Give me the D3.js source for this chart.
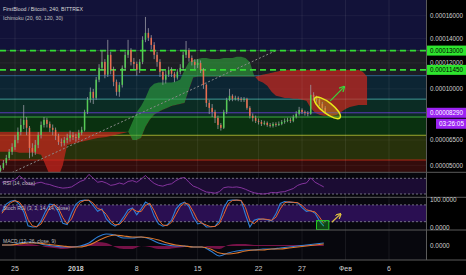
<!DOCTYPE html>
<html>
<head>
<meta charset="utf-8">
<script src="https://cdn.jsdelivr.net/npm/d3@7"></script>
<style>
  html, body { margin: 0; padding: 0; background: #000; }
  svg { display: block; font-family: "Liberation Sans", Arial, sans-serif; }
</style>
</head>
<body>
<svg id="chart" width="466" height="275"></svg>
<script>
// ---- data (prices in satoshi, 1e-8 BTC) ----
var candleStart = new Date(2017, 11, 23, 8); // 8h candles
var firstOpen = 4700;
var closes = [4850,5130,5420,5780,6070,6500,7010,7470,7810,7280,
  6010,5780,6200,6820,7470,7810,7540,7280,7150,6760,
  6380,6320,6500,6630,6820,6690,6630,6950,7150,8350,
  9200,9780,9340,10690,11610,12080,11080,12650,11450,10530,
  9780,10300,11610,12650,13050,12080,11920,11450,12080,13900,
  14490,14070,13470,12650,12080,11300,10690,11080,11450,11150,
  10850,11300,11610,12650,13050,12400,12080,11840,12000,11450,
  10300,8980,8630,8350,7940,7470,7280,8350,9200,9490,
  9270,9340,9270,9200,9270,8630,8080,7940,7740,7670,
  7540,7610,7470,7410,7540,7470,7540,7670,7740,7810,
  7740,8010,8220,8490,8350,8280,8220,9560,9410,9200,
  8910,8630,8290];
var highs = [5000,5300,5600,5950,6300,6800,7300,7900,8830,8000,
  7400,6300,6500,7000,7700,8000,7950,7700,7500,7300,
  6900,6600,6700,6900,7100,7000,6900,7150,7350,8500,
  9400,10100,10000,10900,11900,13000,12300,13900,12900,11700,
  10700,10500,11800,12900,13900,13200,12400,12100,12300,14200,
  15890,14900,14300,13700,12900,12300,11500,11400,11700,11650,
  11300,11500,11900,12900,13800,13200,12600,12300,12300,12200,
  11600,10400,9200,8900,8500,8100,7600,8500,9350,10000,
  9600,9500,9450,9400,9400,9350,8750,8250,8100,7900,
  7800,7750,7700,7600,7650,7650,7700,7800,7900,7950,
  7950,8150,8400,8700,8600,8450,8400,10300,9750,9500,
  9300,9050,8750];
var lows = [4600,4750,5000,5300,5600,5900,6300,6800,7200,6800,
  5400,5500,5600,6000,6600,7300,7300,7000,6800,6500,
  6200,6100,6150,6300,6400,6500,6400,6500,6800,7050,
  8200,9000,8900,9200,10500,11400,10800,10900,11100,10200,
  9500,9420,10100,11400,12400,11800,11500,11000,11200,11900,
  13700,13800,13100,12300,11700,10900,10300,10400,10900,10900,
  10500,10700,11100,11400,12400,12100,11800,11500,11600,11200,
  10000,8700,8200,8000,7600,7200,7100,7200,8200,9100,
  9100,9150,9100,9050,9050,8500,7900,7700,7600,7500,
  7400,7450,7350,7300,7300,7350,7400,7450,7550,7650,
  7600,7650,7900,8100,8200,8100,8050,8150,9150,9000,
  8750,8500,8200];

// Ichimoku cloud, 12h steps (already shifted forward)
var cloudStart = new Date(2017, 11, 23, 0);
var spanA = [5790,5790,5790,5790,5790,5730,5730,5730,5730,5670,
  5610,5020,4450,4270,4380,5020,6190,6260,6320,6380,
  6440,6500,6560,6630,6660,6690,6760,6820,6880,6950,
  7010,7670,8350,8760,9330,10080,10390,10470,10470,10470,
  10470,10550,10700,11450,12080,12240,12320,12400,12400,12320,
  12320,12320,12400,12400,12400,12490,12490,12400,12080,11000,
  10610,10470,10230,9780,9490,9420,9340,9340,9270,9270,
  9200,9130,8630,8290,8150,8080,8080,8080,8150,8350,
  8560,8700,8760,8830,8830,8830];
var spanB = [7030,7030,7030,7030,7030,7030,7030,7030,7030,7030,
  7030,7030,7030,7030,7030,7030,7030,7030,7030,7030,
  7030,7030,7030,7030,7030,7030,7030,7030,7030,7030,
  7030,6500,6500,6630,7340,7810,8150,8350,8500,8630,
  8760,8830,8900,8980,9930,10850,10920,10920,10920,10920,
  10920,10920,10920,10920,10920,10920,10920,10920,10920,10920,
  11000,11080,11150,11230,11300,11380,11450,11450,11450,11450,
  11450,11450,11450,11450,11450,11450,11450,11450,11450,11450,
  11450,11450,11450,11450,11300,10920];

// indicators, 12h steps
var indStart = new Date(2017, 11, 23, 12);
var rsi = [60,61,62,66,76,68,55,53,58,60,
  56,54,50,47,45,46,48,55,62,66,
  80,70,60,62,58,52,54,58,55,62,
  64,60,68,77,66,57,52,50,54,56,
  64,70,72,60,50,46,40,35,34,32,
  36,46,48,47,48,46,42,37,33,31,
  30,31,34,33,35,36,40,44,52,56,
  58,71,60,54,48];
var stochK = [56,83,93,96,82,55,5,1,2,23,
  56,83,80,55,14,10,51,82,95,97,
  96,77,57,65,30,13,4,15,37,62,
  69,45,66,90,81,40,12,4,9,26,
  65,83,90,74,37,12,16,1,2,4,
  22,70,96,97,97,95,45,1,25,30,
  29,27,23,48,85,92,89,89,87,70,
  57,60,50,23,4];
var stochD = [50,72,88,95,90,70,28,5,2,12,
  40,70,82,68,35,12,30,66,89,96,
  97,86,67,62,46,22,9,10,26,50,
  66,57,56,78,86,60,26,8,6,18,
  46,74,87,82,56,25,14,8,2,3,
  13,46,83,96,97,96,70,23,13,28,
  30,28,25,36,66,88,91,89,88,78,
  63,58,55,37,14];

// MACD, daily steps, in 1e-6 BTC
var macdStart = new Date(2017, 11, 23, 12);
var macdLine = [0.5,0.5,1.5,2,1.5,0.5,0,-0.5,-0.5,0,1.5,4.5,6,5.5,4,4,4.5,3.5,1.5,0.5,
  0,0,-0.5,-0.5,-2.5,-5,-3.5,-2.5,-2,-2,-1.5,-1.5,-1,-0.5,0,0.5,1,1.5];
var macdSignal = [0.5,0.5,1,1.5,1.5,1,0.5,0,-0.5,-0.5,0.5,2.5,4.5,5.5,5,4.5,4.5,4,3,1.5,
  0.5,0,-0.5,-0.5,-1.5,-3.5,-4,-3.5,-2.5,-2,-2,-1.5,-1.5,-1,-0.5,0,0.5,1];
var macdHist = [0,0,0.5,1,0.5,-0.5,-1,-1.5,-1,0,1,2,1.5,-0.5,-1.5,-1.5,0,-0.5,-1.5,-1.5,
  -1,-0.5,0,0,-1,-1.5,0.5,1,1,0.5,0.5,0.5,0.5,0.5,0.5,0.5,0.5,0.5];

// drawings
var bandLevels = [13000, 11000, 9250, 8000, 6800, 5300];
var dashedLevels = [13000, 11450];
var lastPrice = 8290;
var trendLine = [{date: new Date(2017, 11, 24, 16), price: 4600}, {date: new Date(2018, 0, 24, 0), price: 13000}];
var ellipseNote = {date: new Date(2018, 0, 29, 22), price: 8630};
var arrowNote = [{date: new Date(2018, 0, 30, 6), price: 9120}, {date: new Date(2018, 0, 31, 20), price: 10150}];
var stochBox = [{date: new Date(2018, 0, 28, 16), v: 24}, {date: new Date(2018, 0, 30, 2), v: -8}];
var stochArrow = [{date: new Date(2018, 0, 30, 10), v: 18}, {date: new Date(2018, 0, 31, 10), v: 47}];

var priceTicks = [16000, 14000, 12000, 10000, 6500, 5000];
var timeTicks = [new Date(2017, 11, 25), new Date(2018, 0, 1), new Date(2018, 0, 8), new Date(2018, 0, 15),
  new Date(2018, 0, 22), new Date(2018, 0, 27), new Date(2018, 1, 1), new Date(2018, 1, 6)];
var timeLabels = ["25", "2018", "8", "15", "22", "27", "Фев", "6"];

// ---- layout ----
var W = 466, H = 275, plotW = 426;
var main = [0, 172.3], rsiPane = [173, 197.3], stochPane = [197.3, 230], macdPane = [230, 260];

var svg = d3.select("#chart");
var fmt = function (v) { return d3.format(".8f")(v / 1e8); };

var x = d3.scaleTime().domain([new Date(2017, 11, 25), new Date(2018, 1, 6)]).range([15, 389]);
var y = d3.scalePow().exponent(0.6).domain([5000, 16000]).range([165.3, 15.7]);
var yRsi = d3.scaleLinear().domain([30, 70]).range([194, 178.3]);
var yStoch = d3.scaleLinear().domain([0, 100]).range([227.3, 199.3]);
var yMacd = d3.scaleLinear().domain([-7, 7]).range([260, 232]);

var defs = svg.append("defs");
function clip(id, r) {
  defs.append("clipPath").attr("id", id).append("rect")
    .attr("x", 0).attr("y", r[0]).attr("width", plotW).attr("height", r[1] - r[0]);
}
clip("cMain", main); clip("cRsi", rsiPane); clip("cStoch", stochPane); clip("cMacd", macdPane);

svg.append("rect").attr("width", W).attr("height", H).attr("fill", "#000");
svg.append("rect").attr("x", 0).attr("y", main[1]).attr("width", plotW).attr("height", macdPane[1] - main[1]).attr("fill", "#07070d");

// ---- main pane ----
var gm = svg.append("g").attr("clip-path", "url(#cMain)");
gm.append("rect").attr("x", 0).attr("y", main[0]).attr("width", plotW).attr("height", main[1]).attr("fill", "#121239");

var bandFills = ["#1d1d24", "#0c2533", "#0b2c24", "#0a3110", "#27310b", "#330c0c"];
var bandLines = ["#3a3a48", "#2e6088", "#3f9a94", "#3fae3f", "#9aa82c", "#b02a18"];
var bandEdges = bandLevels.concat([3000]);
gm.selectAll("rect.band").data(bandLevels).join("rect").attr("class", "band")
  .attr("x", 0).attr("width", plotW)
  .attr("y", function (d) { return y(d); })
  .attr("height", function (d, i) { return y(bandEdges[i + 1]) - y(d); })
  .attr("fill", function (d, i) { return bandFills[i]; });
gm.selectAll("line.bl").data(bandLevels).join("line").attr("class", "bl")
  .attr("x1", 0).attr("x2", plotW)
  .attr("y1", function (d) { return y(d); }).attr("y2", function (d) { return y(d); })
  .attr("stroke", function (d, i) { return bandLines[i]; }).attr("stroke-width", 1);

// grid
gm.selectAll("line.hg").data(priceTicks).join("line").attr("class", "hg")
  .attr("x1", 0).attr("x2", plotW)
  .attr("y1", function (d) { return y(d); }).attr("y2", function (d) { return y(d); })
  .attr("stroke", "rgba(255,255,255,0.05)");

// cloud
var cloudData = spanA.map(function (a, i) { return {date: d3.timeHour.offset(cloudStart, 12 * i), a: a, b: spanB[i]}; });
defs.append("clipPath").attr("id", "cAbove").append("path")
  .attr("d", d3.area().x(function (d) { return x(d.date); }).y0(main[0]).y1(function (d) { return y(d.b); })(cloudData));
defs.append("clipPath").attr("id", "cBelow").append("path")
  .attr("d", d3.area().x(function (d) { return x(d.date); }).y0(function (d) { return y(d.b); }).y1(main[1] + 20)(cloudData));
var cloudArea = d3.area().x(function (d) { return x(d.date); })
  .y0(function (d) { return y(d.b); }).y1(function (d) { return y(d.a); });
gm.append("g").attr("clip-path", "url(#cAbove)").append("path")
  .attr("d", cloudArea(cloudData)).attr("fill", "rgba(46,165,60,0.62)");
gm.append("g").attr("clip-path", "url(#cBelow)").append("path")
  .attr("d", cloudArea(cloudData)).attr("fill", "rgba(205,38,30,0.7)");

// vertical grid
svg.append("g").selectAll("line").data(timeTicks).join("line")
  .attr("x1", function (d) { return x(d); }).attr("x2", function (d) { return x(d); })
  .attr("y1", 0).attr("y2", macdPane[1])
  .attr("stroke", "rgba(255,255,255,0.07)");

// trend line
gm.append("line")
  .attr("x1", x(trendLine[0].date)).attr("y1", y(trendLine[0].price))
  .attr("x2", x(trendLine[1].date)).attr("y2", y(trendLine[1].price))
  .attr("stroke", "#8a8a8a").attr("stroke-width", 1).attr("stroke-dasharray", "2,2");

// dashed horizontal levels
gm.selectAll("line.dl").data(dashedLevels).join("line").attr("class", "dl")
  .attr("x1", 0).attr("x2", plotW)
  .attr("y1", function (d) { return y(d); }).attr("y2", function (d) { return y(d); })
  .attr("stroke", "#33dd33").attr("stroke-width", 1.6).attr("stroke-dasharray", "6,4");

// last price line
gm.append("line").attr("x1", 0).attr("x2", plotW)
  .attr("y1", y(lastPrice)).attr("y2", y(lastPrice))
  .attr("stroke", "#5a3ab8").attr("stroke-width", 1);

// candles
var candles = closes.map(function (c, i) {
  return {date: d3.timeHour.offset(candleStart, 8 * i), open: i ? closes[i - 1] : firstOpen, close: c, high: highs[i], low: lows[i]};
});
gm.append("g").selectAll("line").data(candles).join("line")
  .attr("x1", function (d) { return x(d.date); }).attr("x2", function (d) { return x(d.date); })
  .attr("y1", function (d) { return y(d.high); }).attr("y2", function (d) { return y(d.low); })
  .attr("stroke", "#9a9aa4").attr("stroke-width", 0.8);
gm.append("g").selectAll("rect").data(candles).join("rect")
  .attr("x", function (d) { return x(d.date) - 0.75; }).attr("width", 1.5)
  .attr("y", function (d) { return y(Math.max(d.open, d.close)); })
  .attr("height", function (d) { return Math.max(0.8, Math.abs(y(d.open) - y(d.close))); })
  .attr("fill", function (d) { return d.close >= d.open ? "#56cc56" : "#ea6d4e"; });

// annotations on price
var ex = x(ellipseNote.date), ey = y(ellipseNote.price);
gm.append("ellipse").attr("cx", 0).attr("cy", 0).attr("rx", 16).attr("ry", 5.5)
  .attr("transform", "translate(" + ex + "," + ey + ") rotate(38)")
  .attr("fill", "rgba(190,190,20,0.3)").attr("stroke", "#e8e81a").attr("stroke-width", 1.5);

defs.append("marker").attr("id", "ahG").attr("viewBox", "0 0 10 10").attr("refX", 8).attr("refY", 5)
  .attr("markerWidth", 5).attr("markerHeight", 5).attr("orient", "auto")
  .append("path").attr("d", "M0,0 L10,5 L0,10").attr("fill", "none").attr("stroke", "#3ad63a").attr("stroke-width", 2);
defs.append("marker").attr("id", "ahY").attr("viewBox", "0 0 10 10").attr("refX", 8).attr("refY", 5)
  .attr("markerWidth", 5).attr("markerHeight", 5).attr("orient", "auto")
  .append("path").attr("d", "M0,0 L10,5 L0,10").attr("fill", "none").attr("stroke", "#dcc040").attr("stroke-width", 2);

gm.append("line")
  .attr("x1", x(arrowNote[0].date)).attr("y1", y(arrowNote[0].price))
  .attr("x2", x(arrowNote[1].date)).attr("y2", y(arrowNote[1].price))
  .attr("stroke", "#3ad63a").attr("stroke-width", 1.2).attr("marker-end", "url(#ahG)");

// header
svg.append("text").attr("x", 3).attr("y", 11).attr("font-size", 6.2).attr("fill", "#d8d8d8")
  .attr("textLength", 80).attr("lengthAdjust", "spacingAndGlyphs").text("FirstBlood / Bitcoin, 240, BITTREX");
svg.append("text").attr("x", 3).attr("y", 20).attr("font-size", 6.2).attr("fill", "#c0c0c0")
  .attr("textLength", 60).attr("lengthAdjust", "spacingAndGlyphs").text("Ichimoku (20, 60, 120, 30)");

// ---- RSI pane ----
var gr = svg.append("g").attr("clip-path", "url(#cRsi)");
gr.append("rect").attr("x", 0).attr("width", plotW).attr("y", yRsi(70)).attr("height", yRsi(30) - yRsi(70)).attr("fill", "#1b0c33");
gr.selectAll("line.lv").data([70, 30]).join("line").attr("class", "lv")
  .attr("x1", 0).attr("x2", plotW).attr("y1", function (d) { return yRsi(d); }).attr("y2", function (d) { return yRsi(d); })
  .attr("stroke", "#8a8a9a").attr("stroke-dasharray", "2,2").attr("stroke-width", 0.8);
var indDates = rsi.map(function (d, i) { return d3.timeHour.offset(indStart, 12 * i); });
gr.append("path").datum(rsi)
  .attr("d", d3.line().x(function (d, i) { return x(indDates[i]); }).y(function (d) { return yRsi(d); }))
  .attr("fill", "none").attr("stroke", "#9038a8").attr("stroke-width", 0.9);
svg.append("text").attr("x", 3).attr("y", 185).attr("font-size", 6).attr("fill", "#c0c0c0")
  .attr("textLength", 32).attr("lengthAdjust", "spacingAndGlyphs").text("RSI (14, close)");

// ---- Stoch RSI pane ----
var gs = svg.append("g").attr("clip-path", "url(#cStoch)");
gs.append("rect").attr("x", 0).attr("width", plotW).attr("y", yStoch(80)).attr("height", yStoch(20) - yStoch(80)).attr("fill", "#2a0f52");
gs.selectAll("line.lv").data([80, 20]).join("line").attr("class", "lv")
  .attr("x1", 0).attr("x2", plotW).attr("y1", function (d) { return yStoch(d); }).attr("y2", function (d) { return yStoch(d); })
  .attr("stroke", "#8a8a9a").attr("stroke-dasharray", "2,2").attr("stroke-width", 0.8);
var stochLine = d3.line().x(function (d, i) { return x(indDates[i]); }).y(function (d) { return yStoch(d); });
gs.append("path").datum(stochK).attr("d", stochLine).attr("fill", "none").attr("stroke", "#2f80d8").attr("stroke-width", 1.1);
gs.append("path").datum(stochD).attr("d", stochLine).attr("fill", "none").attr("stroke", "#e8682c").attr("stroke-width", 1);
gs.append("rect")
  .attr("x", x(stochBox[0].date)).attr("y", yStoch(stochBox[0].v))
  .attr("width", x(stochBox[1].date) - x(stochBox[0].date)).attr("height", yStoch(stochBox[1].v) - yStoch(stochBox[0].v))
  .attr("fill", "rgba(30,190,40,0.35)").attr("stroke", "#22cc22").attr("stroke-width", 1);
gs.append("line")
  .attr("x1", x(stochArrow[0].date)).attr("y1", yStoch(stochArrow[0].v))
  .attr("x2", x(stochArrow[1].date)).attr("y2", yStoch(stochArrow[1].v))
  .attr("stroke", "#dcc040").attr("stroke-width", 1.2).attr("marker-end", "url(#ahY)");
svg.append("text").attr("x", 3).attr("y", 210).attr("font-size", 6).attr("fill", "#c0c0c0")
  .attr("textLength", 67).attr("lengthAdjust", "spacingAndGlyphs").text("Stoch RSI (3, 3, 14, 14, close)");

// ---- MACD pane ----
var gd = svg.append("g").attr("clip-path", "url(#cMacd)");
var macdDates = macdLine.map(function (d, i) { return d3.timeDay.offset(macdStart, i); });
gd.append("path").datum(macdHist)
  .attr("d", d3.area().x(function (d, i) { return x(macdDates[i]); }).y0(yMacd(0)).y1(function (d) { return yMacd(d); }).curve(d3.curveMonotoneX))
  .attr("fill", "#8a1452").attr("opacity", 0.85);
var macdGen = d3.line().x(function (d, i) { return x(macdDates[i]); }).y(function (d) { return yMacd(d); }).curve(d3.curveMonotoneX);
gd.append("path").datum(macdLine).attr("d", macdGen).attr("fill", "none").attr("stroke", "#2f80d8").attr("stroke-width", 1.1);
gd.append("path").datum(macdSignal).attr("d", macdGen).attr("fill", "none").attr("stroke", "#e0782c").attr("stroke-width", 1.1);
svg.append("text").attr("x", 3).attr("y", 242.5).attr("font-size", 6).attr("fill", "#c0c0c0")
  .attr("textLength", 53).attr("lengthAdjust", "spacingAndGlyphs").text("MACD (12, 26, close, 9)");

// ---- separators ----
svg.selectAll("line.sep").data([main[1], rsiPane[1], stochPane[1], macdPane[1]]).join("line").attr("class", "sep")
  .attr("x1", 0).attr("x2", W).attr("y1", function (d) { return d; }).attr("y2", function (d) { return d; })
  .attr("stroke", "#5a5a5a").attr("stroke-width", 1);
svg.append("line").attr("x1", plotW + 0.5).attr("x2", plotW + 0.5).attr("y1", 0).attr("y2", macdPane[1])
  .attr("stroke", "#5a5a5a");

// ---- price axis ----
var ax = svg.append("g").attr("font-size", 6.4).attr("fill", "#d0d0d0");
ax.selectAll("text").data(priceTicks).join("text")
  .attr("x", 430).attr("y", function (d) { return y(d); }).attr("dy", "0.35em")
  .attr("textLength", 33).attr("lengthAdjust", "spacingAndGlyphs")
  .text(fmt);

var badges = [
  {price: 13000, fill: "#2ee52e", color: "#000"},
  {price: 11450, fill: "#2ee52e", color: "#000"},
  {price: lastPrice, fill: "#9b22f2", color: "#fff"}
];
var bg = svg.append("g");
bg.selectAll("rect").data(badges).join("rect")
  .attr("x", plotW + 1).attr("width", W - plotW - 1).attr("y", function (d) { return y(d.price) - 5; }).attr("height", 10)
  .attr("fill", function (d) { return d.fill; });
bg.selectAll("text").data(badges).join("text")
  .attr("x", 430).attr("y", function (d) { return y(d.price); }).attr("dy", "0.35em")
  .attr("font-size", 6.4).attr("fill", function (d) { return d.color; })
  .attr("textLength", 33).attr("lengthAdjust", "spacingAndGlyphs")
  .text(function (d) { return fmt(d.price); });
bg.append("rect").attr("x", 436).attr("width", 30).attr("y", y(lastPrice) + 6).attr("height", 10).attr("fill", "#9b22f2");
bg.append("text").attr("x", 439).attr("y", y(lastPrice) + 11).attr("dy", "0.35em").attr("font-size", 6.4).attr("fill", "#fff")
  .attr("textLength", 25).attr("lengthAdjust", "spacingAndGlyphs").text("03:26:05");

var lowerTicks = [{y: yStoch(100), t: "100.0000"}, {y: yStoch(0), t: "0.0000"}, {y: yMacd(0), t: "0.0000"}];
ax.append("g").selectAll("text").data(lowerTicks).join("text")
  .attr("x", 430).attr("y", function (d) { return d.y; }).attr("dy", "0.35em")
  .text(function (d) { return d.t; });

// ---- time axis ----
svg.append("g").selectAll("text").data(timeTicks).join("text")
  .attr("x", function (d) { return x(d); }).attr("y", 270.5)
  .attr("text-anchor", "middle").attr("font-size", 7).attr("fill", "#d0d0d0")
  .attr("font-weight", function (d, i) { return timeLabels[i] === "2018" ? "bold" : null; })
  .text(function (d, i) { return timeLabels[i]; });
</script>
</body>
</html>
